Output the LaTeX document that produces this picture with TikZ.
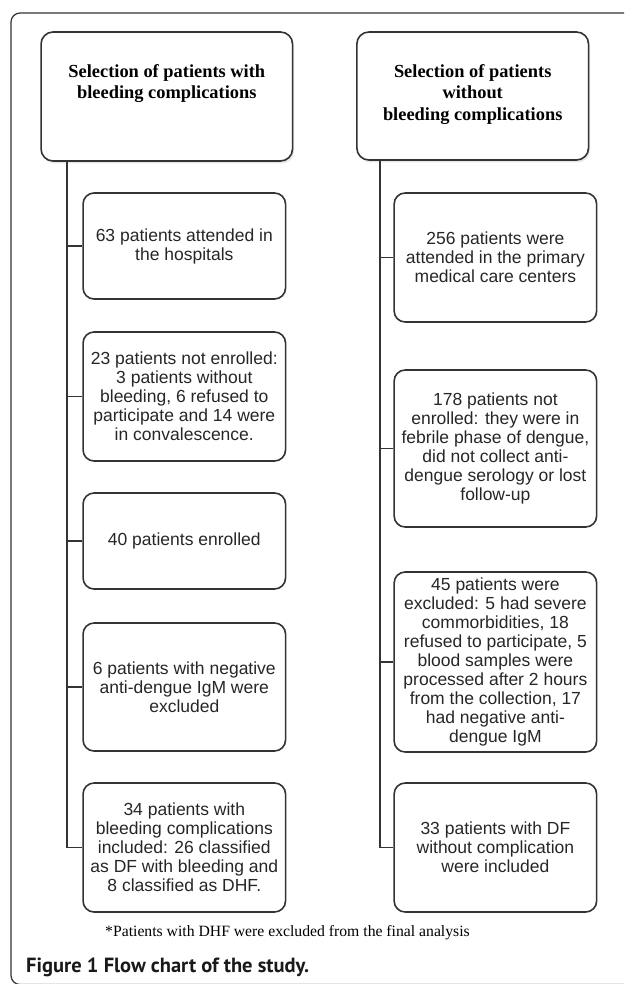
\documentclass[tikz,border=0pt]{standalone}
\usepackage{fontspec}
\setmainfont{Liberation Serif}
\setsansfont{Liberation Sans}
\newfontfamily\capfont{PT Sans}
\usetikzlibrary{shadows}
\tikzset{%
    frm/.style={line width = 1.2pt, draw=black!80, rounded corners=9pt},
    hdr/.style={draw=black!80, line width = 1.6pt, rounded corners=12pt, fill=white,
        drop shadow={opacity=0.18, shadow xshift=1.5pt, shadow yshift=-2.5pt}},
    hdt/.style={align=center, inner sep=0pt, font=\bfseries\fontsize{18.4}{21.6}\selectfont},
    blk/.style={draw=black!80, line width = 1.6pt, rounded corners=11pt, minimum width=202.5pt,
        align=center, inner sep=0pt, text=black!85, font=\sffamily\fontsize{17.5}{19}\selectfont},
    lin/.style={line width = 1.6pt, draw=black!80},
}

\begin{document}
\begin{tikzpicture}[x=1pt,y=-1pt]
    \useasboundingbox (0,0) rectangle (624,984);
    \draw [frm] (624,984.5) -- (11,984.5) -- (11,13) -- (624,13);
    % headers
    \node [hdr, minimum width=251.5pt, minimum height=129pt] (hl) at (166.8,96.5) {};
    \node [hdr, minimum width=231.7pt, minimum height=128pt] (hr) at (472.7,96) {};
    \node [hdt, below=33pt] (hlt) at (hl.north) {Selection of patients with\\bleeding complications};
    \node [hdt, below=33pt] (hrt) at (hr.north) {Selection of patients\\without\\bleeding complications};
    % left column
    \node [blk, minimum height=106pt] (l1) at (184.3,246) {63 patients attended in\\the hospitals};
    \node [blk, minimum height=129pt] (l2) at (184.3,396.5) {23 patients not enrolled:\\3 patients without\\bleeding, 6 refused to\\participate and 14 were\\in convalescence.};
    \node [blk, minimum height=96pt] (l3) at (184.3,541) {40 patients enrolled};
    \node [blk, minimum height=128pt] (l4) at (184.3,687) {6 patients with negative\\anti-dengue IgM were\\excluded};
    \node [blk, minimum height=129pt] (l5) at (184.3,847.5) {34 patients with\\bleeding complications\\included: 26 classified\\as DF with bleeding and\\8 classified as DHF.};
    % right column
    \node [blk, minimum height=129pt] (r1) at (495.4,257.5) {256 patients were\\attended in the primary\\medical care centers};
    \node [blk, minimum height=157pt] (r2) at (495.4,448.5) {178 patients not\\enrolled: they were in\\febrile phase of dengue,\\did not collect anti-\\dengue serology or lost\\follow-up};
    \node [blk, minimum height=180pt] (r3) at (495.4,662) {45 patients were\\excluded: 5 had severe\\commorbidities, 18\\refused to participate, 5\\blood samples were\\processed after 2 hours\\from the collection, 17\\had negative anti-\\dengue IgM};
    \node [blk, minimum height=129pt] (r4) at (495.4,847.5) {33 patients with DF\\without complication\\were included};
    % trunks and branches
    \coordinate (tl) at (67,0);
    \coordinate (tr) at (380,0);
    \draw [lin] (hl.south -| tl) |- (l5.west);
    \draw [lin] (hr.south -| tr) |- (r4.west);
    \foreach \n in {l1,l2,l3,l4} \draw [lin] (\n.west) -- (\n.west -| tl);
    \foreach \n in {r1,r2,r3} \draw [lin] (\n.west) -- (\n.west -| tr);
    \node [inner sep=0pt, font=\fontsize{15.7}{18}\selectfont] (note) at (287.5,933) {*Patients with DHF were excluded from the final analysis};
    \node [anchor=west, inner sep=0pt, text=black!90, font=\capfont\bfseries\fontsize{20.5}{24}\selectfont] (cap) at (26,967) {Figure 1 Flow chart of the study.};
\end{tikzpicture}
\end{document}
